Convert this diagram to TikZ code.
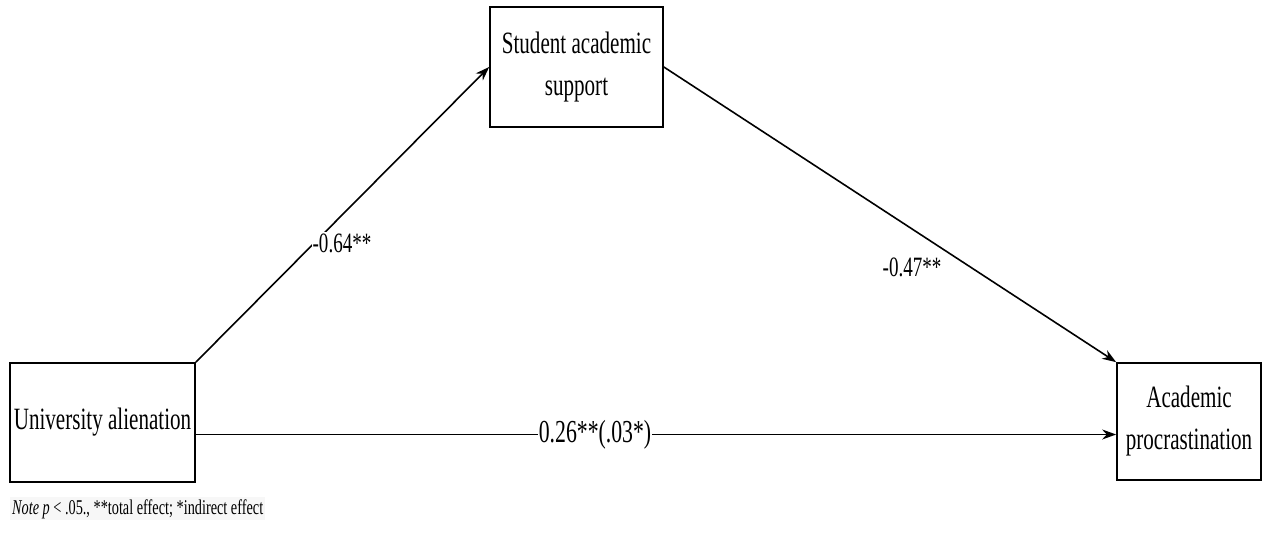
\documentclass[tikz,border=0pt]{standalone}
\usepackage{fontspec}
\setmainfont{Liberation Serif}[FakeStretch=0.68]
\usepackage{tikz}
\usetikzlibrary{arrows.meta, positioning, calc}

\begin{document}
\begin{tikzpicture}[x=1pt, y=-1pt,
    varbox/.style={draw, line width=1.7pt, align=center, inner sep=0pt,
        font=\fontsize{31}{42}\selectfont},
    path/.style={line width=1.6pt, -{Stealth[length=14pt, width=10pt]}},
    coef/.style={fill=white, inner sep=1pt, font=\fontsize{28}{30}\selectfont}]
    \useasboundingbox (0,0) rectangle (1263,535);

    % Variables
    \node[varbox, minimum width=185pt, minimum height=119pt] (univ) at (102.5,422.5) {University alienation};
    \node[varbox, minimum width=173pt, minimum height=120pt] (supp) at (576.5,67) {Student academic\\support};
    \node[varbox, minimum width=144pt, minimum height=117pt] (proc) at (1189,421.5) {Academic\\procrastination};

    % Paths
    \draw[path] (univ.north east) -- (supp.west);
    \draw[path] (supp.east) -- (proc.north west);
    \coordinate (direct) at ([yshift=-12pt]univ.east);
    \draw[path] (direct) -- (direct -| proc.west);

    % Coefficients
    \node[coef] (a) at (342,243) {-0.64**};
    \node[coef] (b) at (912,267) {-0.47**};
    \node[coef, font=\fontsize{32}{34}\selectfont] (c) at (595,435) {0.26**(.03*)};

    % Note
    \node[anchor=base west, fill=gray!6, inner sep=2pt, font=\fontsize{21}{23}\selectfont] (note) at (10,514)
        {\textit{Note} \textit{p} < .05., **total effect; *indirect effect};
\end{tikzpicture}
\end{document}
